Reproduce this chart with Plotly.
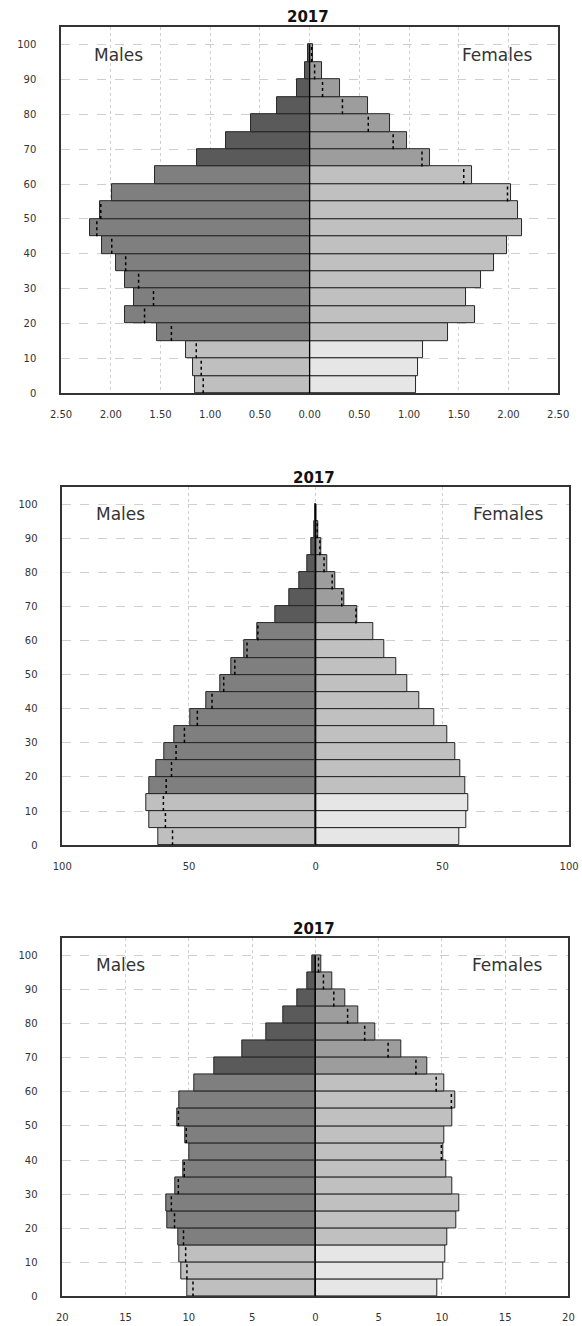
import plotly.graph_objects as go

# Five-year age groups, 0-4 ... 95-99
age_start = list(range(0, 100, 5))
age_labels = [f"{a}-{a + 4}" for a in age_start]

# Panel 1 — share of total population (%)
males_1 = [1.15, 1.17, 1.24, 1.53, 1.86, 1.77, 1.86, 1.95, 2.09, 2.21,
           2.11, 1.99, 1.55, 1.13, 0.84, 0.59, 0.33, 0.13, 0.05, 0.02]
females_1 = [1.07, 1.09, 1.14, 1.39, 1.66, 1.57, 1.72, 1.85, 1.99, 2.14,
             2.10, 2.03, 1.63, 1.21, 0.98, 0.81, 0.59, 0.31, 0.12, 0.03]
ticks_1 = [-2.5, -2.0, -1.5, -1.0, -0.5, 0.0, 0.5, 1.0, 1.5, 2.0, 2.5]
ticktext_1 = ["2.50", "2.00", "1.50", "1.00", "0.50", "0.00",
              "0.50", "1.00", "1.50", "2.00", "2.50"]

# Panel 2 — population (thousands)
males_2 = [62.3, 65.8, 66.8, 65.6, 62.8, 59.9, 55.7, 49.5, 43.2, 37.7,
           33.2, 28.0, 23.1, 15.9, 10.3, 6.5, 3.3, 1.65, 0.6, 0.1]
females_2 = [56.5, 59.3, 60.1, 59.0, 56.9, 55.1, 51.8, 46.7, 40.9, 36.3,
             31.9, 27.1, 22.8, 16.3, 11.3, 7.85, 4.4, 2.15, 1.1, 0.1]
ticks_2 = [-100, -50, 0, 50, 100]
ticktext_2 = ["100", "50", "0", "50", "100"]

# Panel 3 — population (thousands)
males_3 = [10.14, 10.59, 10.72, 10.85, 11.69, 11.79, 11.10, 10.42, 9.96, 10.29,
           10.90, 10.75, 9.55, 7.95, 5.75, 3.90, 2.55, 1.46, 0.64, 0.25]
females_3 = [9.67, 10.15, 10.25, 10.42, 11.13, 11.38, 10.83, 10.36, 10.11, 10.20,
             10.82, 11.03, 10.19, 8.85, 6.77, 4.77, 3.40, 2.33, 1.32, 0.43]
ticks_3 = [-20, -15, -10, -5, 0, 5, 10, 15, 20]
ticktext_3 = ["20", "15", "10", "5", "0", "5", "10", "15", "20"]

y_ticks = list(range(0, 101, 10))
title_text = "2017"

# Broad age-group shading: 0-14, 15-64, 65+
MALE_COLORS = ("#bfbfbf", "#7f7f7f", "#5a5a5a")
FEMALE_COLORS = ("#e6e6e6", "#c0c0c0", "#9d9d9d")


def group_colors(palette):
    out = []
    for a in age_start:
        if a < 15:
            out.append(palette[0])
        elif a < 65:
            out.append(palette[1])
        else:
            out.append(palette[2])
    return out


W, H = 582, 1326
FONT = "DejaVu Sans"
TXT = "#333333"

panels = [
    dict(m=males_1, f=females_1, rng=2.5, tv=ticks_1, tt=ticktext_1,
         px=(52.0, 568.7), py=(27.3, 395.0), ty=17.3),
    dict(m=males_2, f=females_2, rng=100, tv=ticks_2, tt=ticktext_2,
         px=(53.3, 580.0), py=(489.3, 849.0), ty=480.0),
    dict(m=males_3, f=females_3, rng=20, tv=ticks_3, tt=ticktext_3,
         px=(53.3, 579.3), py=(942.7, 1302.3), ty=933.3),
]

fig = go.Figure()
layout = {}
annotations = []
shapes = []

for i, p in enumerate(panels, start=1):
    sfx = "" if i == 1 else str(i)
    xa, ya = "x" + sfx, "y" + sfx
    mids = [a + 2.5 for a in age_start]

    fig.add_trace(go.Bar(
        y=mids, x=[-v for v in p["m"]], orientation="h", width=5,
        marker=dict(color=group_colors(MALE_COLORS),
                    line=dict(color="#262626", width=1)),
        customdata=age_labels, name="Males", showlegend=False,
        xaxis=xa, yaxis=ya))
    fig.add_trace(go.Bar(
        y=mids, x=p["f"], orientation="h", width=5,
        marker=dict(color=group_colors(FEMALE_COLORS),
                    line=dict(color="#262626", width=1)),
        customdata=age_labels, name="Females", showlegend=False,
        xaxis=xa, yaxis=ya))

    # Dotted marker on the larger side at the smaller sex's value
    dx, dy = [], []
    for a, m, f in zip(age_start, p["m"], p["f"]):
        if m > f:
            x = -f
        elif f > m:
            x = m
        else:
            continue
        dx += [x, x, None]
        dy += [a, a + 5, None]
    fig.add_trace(go.Scatter(
        x=dx, y=dy, mode="lines", line=dict(color="black", width=1.5, dash="dot"),
        showlegend=False, hoverinfo="skip", xaxis=xa, yaxis=ya))

    x0, x1 = p["px"]
    ytop, ybot = p["py"]
    layout["xaxis" + sfx] = dict(
        domain=[x0 / W, x1 / W], anchor=ya, range=[-p["rng"], p["rng"]],
        tickvals=p["tv"], ticktext=p["tt"], ticks="",
        tickfont=dict(family=FONT, size=10, color=TXT), ticklabelstandoff=11,
        ticklabeloverflow="allow",
        showgrid=True, gridcolor="#cfcfcf", gridwidth=1, griddash="dot",
        zeroline=False, showline=True, linecolor="#333333", linewidth=1.5,
        mirror=True, fixedrange=True)
    layout["yaxis" + sfx] = dict(
        domain=[1 - ybot / H, 1 - ytop / H], anchor=xa, range=[0, 105],
        tickvals=y_ticks, ticks="",
        tickfont=dict(family=FONT, size=10, color=TXT), ticklabelstandoff=21,
        showgrid=True, gridcolor="#cfcfcf", gridwidth=1, griddash="dash",
        zeroline=False, showline=True, linecolor="#333333", linewidth=1.5,
        mirror=True, fixedrange=True)

    shapes.append(dict(type="line", xref=xa, yref=ya, x0=0, x1=0, y0=0, y1=100,
                       line=dict(color="black", width=1.3), layer="above"))

    annotations += [
        dict(text=f"<b>{title_text}</b>", xref="paper", yref="paper",
             x=(x0 + x1) / 2 / W - 1.5 / W, y=1 - p["ty"] / H,
             xanchor="center", yanchor="middle", showarrow=False,
             font=dict(family=FONT, size=15, color="#111111")),
        dict(text="Males", xref=xa + " domain", yref=ya + " domain",
             x=0.062, y=0.925, xanchor="left", yanchor="middle", showarrow=False,
             font=dict(family=FONT, size=17, color=TXT)),
        dict(text="Females", xref=xa + " domain", yref=ya + " domain",
             x=0.952, y=0.925, xanchor="right", yanchor="middle", showarrow=False,
             font=dict(family=FONT, size=17, color=TXT)),
    ]

fig.update_layout(
    width=W, height=H, margin=dict(l=0, r=0, t=0, b=0),
    paper_bgcolor="white", plot_bgcolor="white",
    barmode="overlay", bargap=0,
    annotations=annotations, shapes=shapes, **layout)

fig.write_html("out.html")
